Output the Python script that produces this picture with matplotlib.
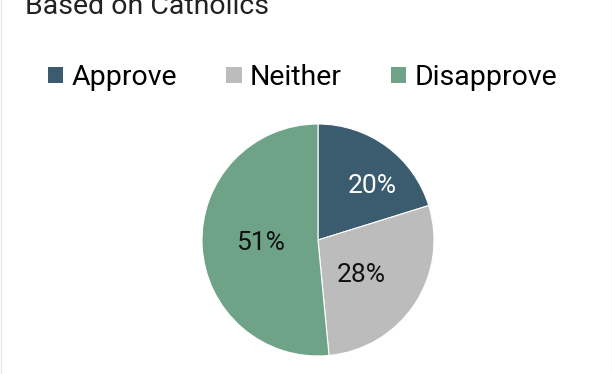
import matplotlib.pyplot as plt
from matplotlib.patches import Patch
from matplotlib.lines import Line2D
import numpy as np

plt.rcParams['font.family'] = ['Roboto', 'DejaVu Sans']

# data
categories = ['Approve', 'Neither', 'Disapprove']
shares = [20, 28, 51]
colors = ['#3b5b6e', '#bcbcbc', '#6fa388']
label_colors = ['white', '#111111', '#111111']

# label placement tweaks (fraction of radius, angle shift in degrees)
label_radius = [0.66, 0.48, 0.5]
label_shift = [-9, -5, 0]

W, H = 612, 374
fig = plt.figure(figsize=(W / 100, H / 100), dpi=100)

# pie centred at (318, 240) px, radius 116 px
cx, cy, r = 318, 240, 116
ax = fig.add_axes([(cx - r) / W, (H - cy - r) / H, 2 * r / W, 2 * r / H])
wedges, _ = ax.pie(shares, colors=colors, startangle=90, counterclock=False,
                   radius=1.0, wedgeprops=dict(edgecolor='white', linewidth=0.8))
ax.set_xlim(-1, 1)
ax.set_ylim(-1, 1)
ax.set_aspect('equal')
ax.axis('off')

for w, v, rad, sh, tc in zip(wedges, shares, label_radius, label_shift, label_colors):
    mid = np.deg2rad((w.theta1 + w.theta2) / 2 + sh)
    ax.text(rad * np.cos(mid), rad * np.sin(mid), f'{v}%', ha='center', va='center',
            fontsize=19, color=tc)

# title (cut off at top in the original)
fig.text(25 / W, (H - 14) / H, 'Based on Catholics', fontsize=20.5, color='#222222',
         va='baseline', ha='left')

# legend
handles = [Patch(facecolor=c, edgecolor='none') for c in colors]
fig.legend(handles, categories, loc='center', bbox_to_anchor=(302.5 / W, 1 - 77.5 / H),
           ncol=3, frameon=False, fontsize=20.5, handlelength=0.53, handleheight=0.53,
           handletextpad=0.28, columnspacing=1.75, borderpad=0, borderaxespad=0)

# faint side borders
for x in (0.5 / W, 1 - 0.5 / W):
    fig.add_artist(Line2D([x, x], [0, 1], color='#e6e6e6', linewidth=1,
                          transform=fig.transFigure))

fig.savefig('out.png', dpi=100)
